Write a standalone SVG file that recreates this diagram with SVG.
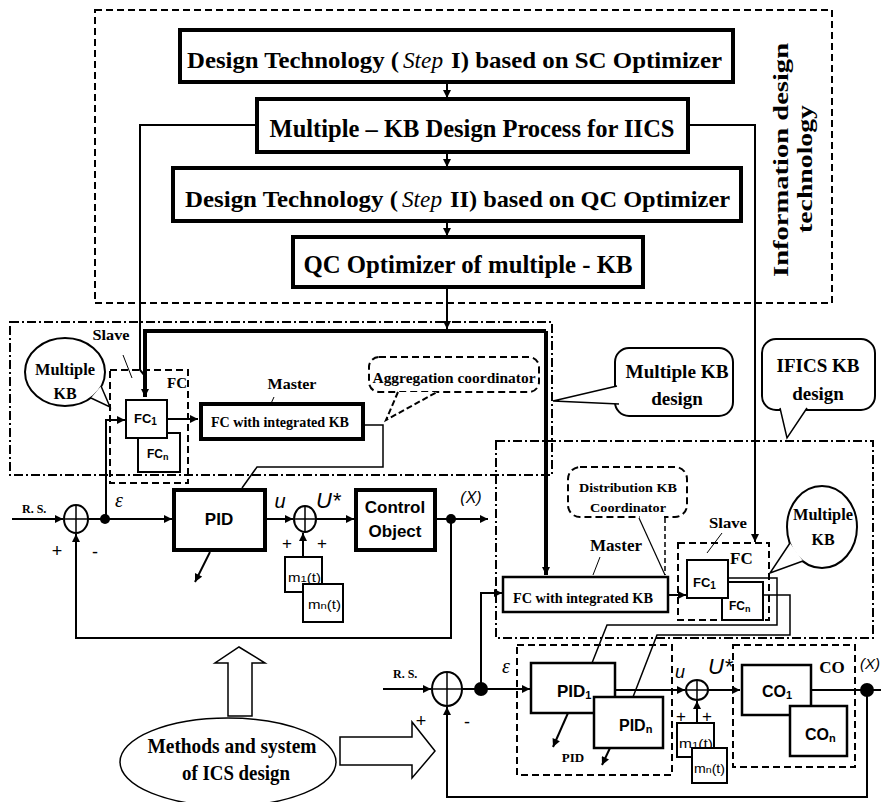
<svg xmlns="http://www.w3.org/2000/svg" width="881" height="802" viewBox="0 0 881 802">
<style>
.tb{fill:#fff;stroke:#000;stroke-width:4}
.bx{fill:#fff;stroke:#000;stroke-width:2.5}
.bt{fill:#fff;stroke:#000;stroke-width:2}
.dd{fill:none;stroke:#000;stroke-width:2;stroke-dasharray:9 3 2 3}
.ds{fill:none;stroke:#000;stroke-width:2;stroke-dasharray:7 4}
.ln{fill:none;stroke:#000;stroke-width:2}
.lt{fill:none;stroke:#000;stroke-width:1.5}
.tk{fill:none;stroke:#000;stroke-width:4}
.ser{font-family:"Liberation Serif",serif;font-weight:bold;fill:#000}
.sit{font-family:"Liberation Serif",serif;font-style:italic;fill:#000}
.san{font-family:"Liberation Sans",Arial,sans-serif;font-weight:bold;fill:#000}
.it{font-family:"Liberation Sans",Arial,sans-serif;font-style:italic;fill:#000}
.sm{font-family:"Liberation Sans",Arial,sans-serif;fill:#000}
.c{text-anchor:middle}
</style>
<defs>
<marker id="ah" viewBox="0 0 10 10" refX="10" refY="5" markerWidth="9" markerHeight="8" markerUnits="userSpaceOnUse" orient="auto"><path d="M0,0 L10,5 L0,10 z" fill="#000"/></marker>
</defs>

<!-- frames -->
<g id="frames">
<rect class="ds" x="95" y="10" width="737" height="293"/>
<rect class="dd" x="10" y="322" width="542" height="153"/>
<rect class="dd" x="496" y="441" width="377" height="197"/>
</g>

<g id="info-label">
<text class="ser c" font-size="20" transform="translate(788,160) rotate(-90)" textLength="234" lengthAdjust="spacingAndGlyphs">Information design</text>
<text class="ser c" font-size="20" transform="translate(812,169) rotate(-90)" textLength="128" lengthAdjust="spacingAndGlyphs">technology</text>
</g>

<!-- connectors -->
<g id="connectors">
<path class="ln" d="M447,82 V98" marker-end="url(#ah)"/>
<path class="ln" d="M447,152 V167" marker-end="url(#ah)"/>
<path class="ln" d="M447,221 V236" marker-end="url(#ah)"/>
<path class="ln" d="M447,287 V329" marker-end="url(#ah)"/>
<path class="tk" d="M546,331 H145 V397" marker-end="url(#ah)"/>
<path class="tk" d="M546,331 V575" marker-end="url(#ah)"/>
<path class="ln" d="M257,125 H140 V370 L145,376"/>
<path class="ln" d="M688,125 H755 V542" marker-end="url(#ah)"/>
<path class="ln" d="M167,419 H198" marker-end="url(#ah)"/>
<path class="ln" d="M106,519 V420 H125" marker-end="url(#ah)"/>
<path class="lt" d="M363,425 H383 V467 H257 L242,488"/>
<path class="ln" d="M12,519 H63" marker-end="url(#ah)"/>
<path class="ln" d="M88,519 H172" marker-end="url(#ah)"/>
<path class="ln" d="M265,519 H293" marker-end="url(#ah)"/>
<path class="ln" d="M316,519 H354" marker-end="url(#ah)"/>
<path class="ln" d="M435,519 H488" marker-end="url(#ah)"/>
<path class="ln" d="M451,519 V638 H76 V534" marker-end="url(#ah)"/>
<path class="ln" d="M303,557 V533" marker-end="url(#ah)"/>
<path class="ln" d="M210,552 L195,582" marker-end="url(#ah)"/>
<path class="ln" d="M481,689 V593 H502" marker-end="url(#ah)"/>
<path class="ln" d="M668,595 H686" marker-end="url(#ah)"/>
<path class="lt" d="M728,578 H777 V625 H607 L592,663"/>
<path class="lt" d="M763,595 H790 V635 H657 L633,697"/>
<path class="ln" d="M383,689 H431" marker-end="url(#ah)"/>
<path class="ln" d="M462,689 H530" marker-end="url(#ah)"/>
<path class="ln" d="M615,690 H685" marker-end="url(#ah)"/>
<path class="ln" d="M708,690 H740" marker-end="url(#ah)"/>
<path class="ln" d="M811,690 H881"/>
<path class="ln" d="M867,690 V797 H447 V707" marker-end="url(#ah)"/>
<path class="ln" d="M697,723 V701" marker-end="url(#ah)"/>
<path class="ln" d="M568,713 L553,747" marker-end="url(#ah)"/>
<path class="ln" d="M610,748 L602,765" marker-end="url(#ah)"/>
<circle cx="105" cy="519" r="5"/>
<circle cx="451" cy="519" r="5"/>
<circle cx="481" cy="689" r="7"/>
<circle cx="867" cy="690" r="7"/>
</g>

<!-- top chain -->
<g id="step1"><rect class="tb" x="180" y="30" width="553" height="52"/>
<text class="ser" x="187" y="68" font-size="24" textLength="212" lengthAdjust="spacingAndGlyphs">Design Technology (</text>
<text class="sit" x="403" y="68" font-size="24" textLength="40" lengthAdjust="spacingAndGlyphs">Step</text>
<text class="ser" x="451" y="68" font-size="24" textLength="271" lengthAdjust="spacingAndGlyphs">I) based on SC Optimizer</text></g>
<g id="multikb"><rect class="tb" x="257" y="99" width="431" height="53"/>
<text class="ser c" x="472" y="137" font-size="26" textLength="405" lengthAdjust="spacingAndGlyphs">Multiple – KB Design Process for IICS</text></g>
<g id="step2"><rect class="tb" x="173" y="168" width="568" height="53"/>
<text class="ser" x="185" y="207" font-size="24" textLength="213" lengthAdjust="spacingAndGlyphs">Design Technology (</text>
<text class="sit" x="402" y="207" font-size="24" textLength="40" lengthAdjust="spacingAndGlyphs">Step</text>
<text class="ser" x="450" y="207" font-size="24" textLength="280" lengthAdjust="spacingAndGlyphs">II) based on QC Optimizer</text></g>
<g id="qcopt"><rect class="tb" x="293" y="237" width="350" height="50"/>
<text class="ser c" x="468" y="273" font-size="26" textLength="329" lengthAdjust="spacingAndGlyphs">QC Optimizer of multiple - KB</text></g>

<!-- left upper block -->
<g id="mkb-left">
<ellipse cx="65" cy="372" rx="40" ry="34" class="ln" fill="#fff"/>
<polyline points="101,386 110,407 91,398" fill="#fff" stroke="#000" stroke-width="1.5"/>
<text class="ser c" x="65" y="375" font-size="16" textLength="60" lengthAdjust="spacingAndGlyphs">Multiple</text>
<text class="ser c" x="65" y="399" font-size="16">KB</text>
</g>
<g id="slave-left">
<text class="ser c" x="111" y="340" font-size="15" textLength="37" lengthAdjust="spacingAndGlyphs">Slave</text>
<line x1="123" y1="355" x2="132" y2="378" stroke="#000" stroke-width="1"/>
</g>
<g id="fc-left">
<rect class="ds" x="110" y="370" width="78" height="113"/>
<text class="ser" x="167" y="388" font-size="15">FC</text>
<rect class="bt" x="138" y="433" width="42" height="39"/>
<text class="san" x="147" y="458" font-size="12">FC<tspan font-size="9" dy="2">n</tspan></text>
<rect class="bt" x="126" y="400" width="41" height="38"/>
<text class="san" x="134" y="423" font-size="13">FC<tspan font-size="10" dy="2">1</tspan></text>
</g>
<g id="master-left">
<text class="ser c" x="292" y="389" font-size="15" font-weight="normal" textLength="49" lengthAdjust="spacingAndGlyphs">Master</text>
<line x1="274" y1="397" x2="268" y2="410" stroke="#000" stroke-width="1"/>
<rect class="tb" x="201" y="404" width="162" height="35"/>
<text class="ser c" x="280" y="427" font-size="14" textLength="138" lengthAdjust="spacingAndGlyphs">FC with integrated KB</text>
</g>
<g id="agg">
<rect class="ds" x="369" y="357" width="170" height="35" rx="10"/>
<polyline points="398,392 386,420 437,392" fill="#fff" stroke="#000" stroke-width="2" stroke-dasharray="6 3"/>
<text class="ser c" x="454" y="383" font-size="15" textLength="163" lengthAdjust="spacingAndGlyphs">Aggregation coordinator</text>
</g>
<g id="mkbdesign">
<rect class="ln" fill="#fff" x="615" y="348" width="118" height="68" rx="14"/>
<polyline points="617,386 553,401 619,404" fill="#fff" stroke="#000" stroke-width="1.5"/>
<text class="ser c" x="677" y="378" font-size="19" textLength="103" lengthAdjust="spacingAndGlyphs">Multiple KB</text>
<text class="ser c" x="677" y="405" font-size="19">design</text>
</g>
<g id="ificsdesign">
<rect class="ln" fill="#fff" x="762" y="339" width="113" height="71" rx="14"/>
<polyline points="780,408 787,438 807,408" fill="#fff" stroke="#000" stroke-width="1.5"/>
<text class="ser c" x="818" y="372" font-size="19" textLength="83" lengthAdjust="spacingAndGlyphs">IFICS KB</text>
<text class="ser c" x="818" y="400" font-size="19">design</text>
</g>

<!-- left loop -->
<g id="rs-left"><text class="ser" x="22" y="513" font-size="12">R. S.</text></g>
<g id="sum1-left">
<ellipse cx="76" cy="519" rx="12" ry="14" class="ln" fill="#fff"/>
<path class="lt" d="M64,519 H88 M76,505 V533"/>
<text class="sm" x="57" y="557" font-size="18" text-anchor="middle">+</text>
<text class="sm" x="95" y="558" font-size="18" text-anchor="middle">-</text>
<text class="sit c" x="119" y="507" font-size="20">ε</text>
</g>
<g id="pid-left"><rect class="tb" x="174" y="490" width="91" height="60"/>
<text class="san c" x="219" y="525" font-size="17">PID</text>
<text class="it c" x="280" y="508" font-size="20">u</text></g>
<g id="sum2-left">
<ellipse cx="305" cy="519" rx="11" ry="13" class="ln" fill="#fff"/>
<path class="lt" d="M294,519 H316 M305,506 V532"/>
<text class="sm c" x="287" y="549" font-size="17">+</text>
<text class="sm c" x="322" y="549" font-size="17">+</text>
<text class="it" x="316" y="508" font-size="22">U*</text>
</g>
<g id="m-left">
<rect class="bt" x="285" y="557" width="37" height="35"/>
<text class="sm" x="288" y="582" font-size="12" textLength="33" lengthAdjust="spacingAndGlyphs">m<tspan font-size="9">1</tspan>(t)</text>
<rect class="bt" x="303" y="584" width="40" height="38"/>
<text class="sm" x="308" y="609" font-size="12" textLength="33" lengthAdjust="spacingAndGlyphs">m<tspan font-size="9">n</tspan>(t)</text>
</g>
<g id="co-left"><rect class="tb" x="356" y="490" width="79" height="60"/>
<text class="san c" x="395" y="513" font-size="17">Control</text>
<text class="san c" x="395" y="537" font-size="17">Object</text>
<text class="it c" x="471" y="503" font-size="16">(X)</text></g>

<!-- methods -->
<g id="methods">
<ellipse cx="228" cy="762" rx="108" ry="44" class="lt" fill="#fff"/>
<text class="ser c" x="232" y="753" font-size="21" textLength="169" lengthAdjust="spacingAndGlyphs">Methods and system</text>
<text class="ser c" x="236" y="780" font-size="21" textLength="108" lengthAdjust="spacingAndGlyphs">of ICS design</text>
</g>
<g id="arrow-up"><polygon points="228,716 228,663 215,663 239,647 265,663 252,663 252,716" fill="#fff" stroke="#000" stroke-width="1.5"/></g>
<g id="arrow-right"><polygon points="340,737 412,737 412,722 435,751 412,778 412,765 340,765" fill="#fff" stroke="#000" stroke-width="1.5"/></g>

<!-- right upper block -->
<g id="distr">
<rect class="ds" x="568" y="467" width="119" height="50" rx="12"/>
<line x1="639" y1="518" x2="665" y2="575" stroke="#000" stroke-width="1.2"/>
<line x1="665" y1="518" x2="665" y2="575" stroke="#000" stroke-width="1.5" stroke-dasharray="5 3"/>
<rect x="640" y="516" width="24" height="3" fill="#fff"/>
<text class="ser c" x="628" y="492" font-size="13" textLength="98" lengthAdjust="spacingAndGlyphs">Distribution KB</text>
<text class="ser c" x="628" y="512" font-size="13" textLength="76" lengthAdjust="spacingAndGlyphs">Coordinator</text>
</g>
<g id="master-right">
<text class="ser c" x="616" y="551" font-size="16" textLength="52" lengthAdjust="spacingAndGlyphs">Master</text>
<line x1="600" y1="557" x2="593" y2="575" stroke="#000" stroke-width="1"/>
<rect class="bx" x="503" y="577" width="165" height="35"/>
<text class="ser c" x="583" y="603" font-size="14" textLength="140" lengthAdjust="spacingAndGlyphs">FC with integrated KB</text>
</g>
<g id="slave-right">
<text class="ser c" x="728" y="528" font-size="15" textLength="38" lengthAdjust="spacingAndGlyphs">Slave</text>
<line x1="722" y1="533" x2="707" y2="553" stroke="#000" stroke-width="1"/>
</g>
<g id="fc-right">
<rect class="ds" x="678" y="543" width="91" height="77"/>
<text class="ser" x="730" y="564" font-size="17">FC</text>
<rect class="bt" x="722" y="582" width="41" height="38"/>
<text class="san" x="729" y="610" font-size="12">FC<tspan font-size="9" dy="2">n</tspan></text>
<rect class="bt" x="687" y="560" width="41" height="38"/>
<text class="san" x="693" y="587" font-size="13">FC<tspan font-size="10" dy="2">1</tspan></text>
</g>
<g id="mkb-right">
<ellipse cx="822" cy="527" rx="35" ry="41" class="ln" fill="#fff"/>
<polyline points="790,543 770,573 803,561" fill="#fff" stroke="#000" stroke-width="1.5"/>
<text class="ser c" x="823" y="520" font-size="16" textLength="60" lengthAdjust="spacingAndGlyphs">Multiple</text>
<text class="ser c" x="823" y="545" font-size="16">KB</text>
</g>

<!-- right loop -->
<g id="rs-right"><text class="ser" x="393" y="678" font-size="12">R. S.</text></g>
<g id="sum1-right">
<ellipse cx="447" cy="689" rx="15" ry="17" class="ln" fill="#fff"/>
<path class="lt" d="M432,689 H462 M447,672 V706"/>
<text class="sm c" x="421" y="727" font-size="18">+</text>
<text class="sm c" x="467" y="728" font-size="18">-</text>
<text class="sit c" x="506" y="673" font-size="20">ε</text>
</g>
<g id="pid-right">
<rect class="ds" x="517" y="645" width="155" height="130"/>
<text class="ser c" x="573" y="762" font-size="13">PID</text>
<rect class="bx" x="531" y="663" width="84" height="50"/>
<text class="san" x="557" y="697" font-size="17">PID<tspan font-size="11" dy="2">1</tspan></text>
<rect class="bx" x="594" y="697" width="69" height="51"/>
<text class="san" x="619" y="731" font-size="16">PID<tspan font-size="11" dy="2">n</tspan></text>
</g>
<g id="sum2-right">
<ellipse cx="697" cy="690" rx="11" ry="10" class="ln" fill="#fff"/>
<path class="lt" d="M686,690 H708 M697,680 V700"/>
<text class="sm c" x="681" y="722" font-size="17">+</text>
<text class="sm c" x="707" y="722" font-size="17">+</text>
<text class="it c" x="680" y="678" font-size="18">u</text>
<text class="it" x="708" y="674" font-size="22">U*</text>
</g>
<g id="m-right">
<rect class="bt" x="677" y="723" width="37" height="34"/>
<text class="sm" x="679" y="748" font-size="12" textLength="34" lengthAdjust="spacingAndGlyphs">m<tspan font-size="9">1</tspan>(t)</text>
<rect class="bt" x="692" y="748" width="35" height="35"/>
<text class="sm" x="694" y="773" font-size="12" textLength="31" lengthAdjust="spacingAndGlyphs">m<tspan font-size="9">n</tspan>(t)</text>
</g>
<g id="co-right">
<rect class="ds" x="733" y="645" width="122" height="122"/>
<text class="ser c" x="832" y="673" font-size="17">CO</text>
<rect class="bx" x="742" y="665" width="69" height="50"/>
<text class="san" x="762" y="697" font-size="16">CO<tspan font-size="11" dy="2">1</tspan></text>
<rect class="bx" x="790" y="706" width="57" height="50"/>
<text class="san" x="805" y="740" font-size="16">CO<tspan font-size="11" dy="2">n</tspan></text>
<text class="it" x="860" y="669" font-size="15">(X)</text>
</g>
</svg>
